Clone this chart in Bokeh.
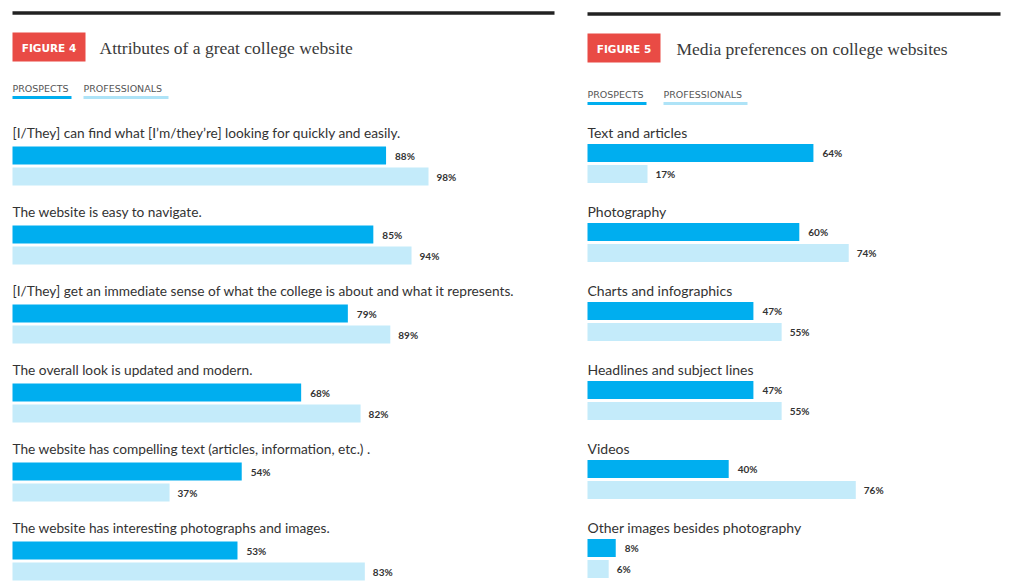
from bokeh.plotting import figure
from bokeh.models import Range1d, ColumnDataSource
from bokeh.layouts import row
from bokeh.core.properties import value
from bokeh.embed import file_html
from bokeh.resources import INLINE

# ---------------- data ----------------
fig4_title = "Attributes of a great college website"
fig4_categories = [
    "[I/They] can find what [I\u2019m/they\u2019re] looking for quickly and easily.",
    "The website is easy to navigate.",
    "[I/They] get an immediate sense of what the college is about and what it represents.",
    "The overall look is updated and modern.",
    "The website has compelling text (articles, information, etc.) .",
    "The website has interesting photographs and images.",
]
fig4_prospects = [88, 85, 79, 68, 54, 53]
fig4_professionals = [98, 94, 89, 82, 37, 83]

fig5_title = "Media preferences on college websites"
fig5_categories = [
    "Text and articles",
    "Photography",
    "Charts and infographics",
    "Headlines and subject lines",
    "Videos",
    "Other images besides photography",
]
fig5_prospects = [64, 60, 47, 47, 40, 8]
fig5_professionals = [17, 74, 55, 55, 76, 6]

series_names = ["PROSPECTS", "PROFESSIONALS"]

# ---------------- style ----------------
H = 586
C_PRO = "#00AEEF"
C_PROF = "#C4EBFA"
C_PROF_LINE = "#AEE3F7"
C_BADGE = "#E94B45"
C_TEXT = "#333333"
SANS = value("Lato")
SMALL = value("DejaVu Sans")
SERIF = value("Liberation Serif")


def panel(W, x0, pxper, fig_label, title, cats, pros, profs,
          bar_top0, label_dy, legend_y, legend_spans, rule_span, rule_y,
          badge_box, title_x, label_size):
    p = figure(width=W, height=H,
               x_range=Range1d(-x0 / pxper, (W - x0) / pxper),
               y_range=Range1d(H, 0),
               output_backend="svg", toolbar_location=None,
               x_axis_location=None, y_axis_location=None,
               min_border=0, outline_line_color=None)
    p.grid.visible = False
    p.extra_x_ranges = {"px": Range1d(0, W)}

    n = len(cats)
    step = 79
    y1 = [bar_top0 + 9 + step * i for i in range(n)]
    y2 = [bar_top0 + 30 + step * i for i in range(n)]
    yl = [bar_top0 - label_dy + step * i for i in range(n)]

    src = ColumnDataSource(dict(
        cat=cats, pros=pros, profs=profs, y1=y1, y2=y2, yl=yl,
        pros_lbl=[f"{v}%" for v in pros],
        profs_lbl=[f"{v}%" for v in profs],
        zero=[0] * n,
    ))

    p.hbar(y="y1", left="zero", right="pros", height=18, source=src,
           fill_color=C_PRO, line_color=None)
    p.hbar(y="y2", left="zero", right="profs", height=18, source=src,
           fill_color=C_PROF, line_color=None)

    p.text(x="pros", y="y1", text="pros_lbl", source=src, x_offset=9,
           text_font=SANS, text_font_style="bold", text_font_size="10px",
           text_color=C_TEXT, text_baseline="middle")
    p.text(x="profs", y="y2", text="profs_lbl", source=src, x_offset=8,
           text_font=SANS, text_font_style="bold", text_font_size="10px",
           text_color=C_TEXT, text_baseline="middle")

    p.text(x="zero", y="yl", text="cat", source=src,
           text_font=SANS, text_font_size=label_size, text_color=C_TEXT,
           text_baseline="middle")

    # top rule
    p.segment(x0=[rule_span[0]], x1=[rule_span[1]], y0=[rule_y], y1=[rule_y],
              line_color="#222222", line_width=3.5, x_range_name="px")

    # badge
    bx0, bx1, by0, by1 = badge_box
    p.quad(left=[bx0], right=[bx1], top=[by0], bottom=[by1],
           fill_color=C_BADGE, line_color=None, x_range_name="px")
    p.text(x=[(bx0 + bx1) / 2], y=[(by0 + by1) / 2 + 0.5], text=[fig_label],
           text_font=SMALL, text_font_style="bold", text_font_size="10.5px",
           text_color="white", text_align="center", text_baseline="middle",
           x_range_name="px")

    # title
    p.text(x=[title_x], y=[(by0 + by1) / 2 + 0.5], text=[title],
           text_font=SERIF, text_font_size="17.5px", text_color="#3a3a3a",
           text_baseline="middle", x_range_name="px")

    # legend
    colors = [C_PRO, C_PROF_LINE]
    for name, (sx0, sx1), col in zip(series_names, legend_spans, colors):
        p.text(x=[sx0], y=[legend_y], text=[name], text_font=SMALL,
               text_font_size="9.5px", text_color="#555555",
               text_baseline="middle", x_range_name="px")
        p.segment(x0=[sx0], x1=[sx1], y0=[legend_y + 9], y1=[legend_y + 9],
                  line_color=col, line_width=3, x_range_name="px")
    return p


left = panel(W=579, x0=12, pxper=4.245, fig_label="FIGURE 4", title=fig4_title,
             cats=fig4_categories, pros=fig4_prospects, profs=fig4_professionals,
             bar_top0=146, label_dy=14, legend_y=88,
             legend_spans=[(12, 71), (83, 168)], rule_span=(12, 554), rule_y=12.5,
             badge_box=(12, 85, 32, 61), title_x=99, label_size="13.7px")

right = panel(W=444, x0=8, pxper=3.53, fig_label="FIGURE 5", title=fig5_title,
              cats=fig5_categories, pros=fig5_prospects, profs=fig5_professionals,
              bar_top0=143.5, label_dy=12, legend_y=94,
              legend_spans=[(8, 67), (84, 168)], rule_span=(8, 421), rule_y=13.5,
              badge_box=(8, 81, 33, 62), title_x=97, label_size="14px")

layout = row(left, right)
open("out.html", "w").write(file_html(layout, INLINE))
